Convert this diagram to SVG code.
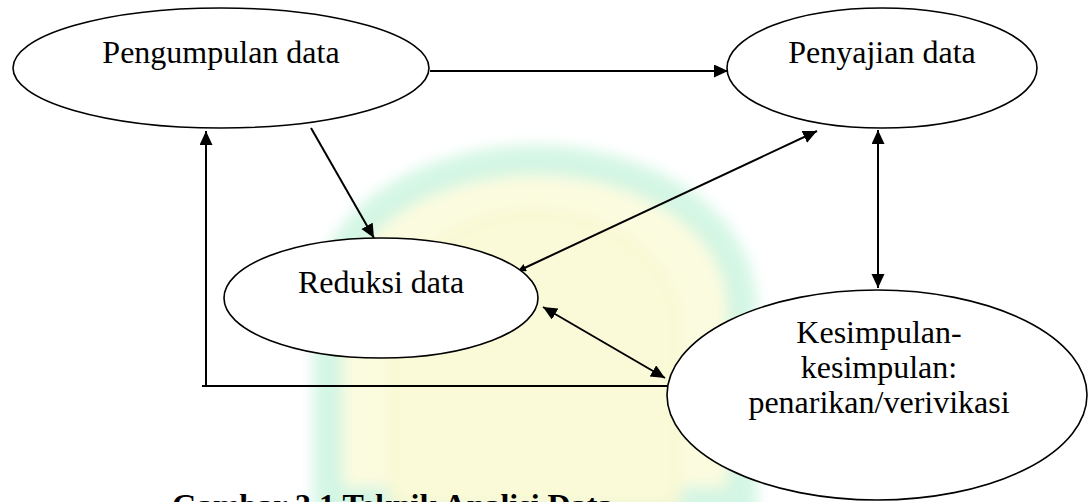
<svg xmlns="http://www.w3.org/2000/svg" width="1088" height="502" viewBox="0 0 1088 502">
  <defs>
    <style>
      .node ellipse { fill: #ffffff; stroke: #000000; stroke-width: 1.6; }
      .node text { font-family: "Liberation Serif", "Times New Roman", serif; font-size: 32px; fill: #000000; text-anchor: middle; }
      .edge { fill: none; stroke: #000000; stroke-width: 2; }
      .caption { font-family: "Liberation Serif", "Times New Roman", serif; font-size: 32px; font-weight: bold; fill: #000000; }
    </style>
    <marker id="head" markerUnits="userSpaceOnUse" markerWidth="16" markerHeight="14" refX="14" refY="6.5" orient="auto-start-reverse">
      <path d="M0,0 L14,6.5 L0,13 z" fill="#000000"/>
    </marker>
    <marker id="headSmall" markerUnits="userSpaceOnUse" markerWidth="10" markerHeight="10" refX="8" refY="4" orient="auto-start-reverse">
      <path d="M0,0 L8,4 L0,8 z" fill="#000000"/>
    </marker>
    <filter id="soft" x="-20%" y="-20%" width="140%" height="140%">
      <feGaussianBlur stdDeviation="7"/>
    </filter>
  </defs>

  <rect width="1088" height="502" fill="#ffffff"/>

  <!-- faint emblem behind the chart -->
  <g id="emblem" filter="url(#soft)" opacity="0.8">
    <path d="M328,502 L328,310 C328,222 420,162 535,160 C650,162 742,222 742,310 L742,502 Z" fill="#fbfbd8" stroke="#c9f4de" stroke-width="30"/>
    <path d="M395,502 L395,330 C395,262 460,217 535,215 C610,217 675,262 675,330 L675,502 Z" fill="#fafad0" stroke="#f7f7c8" stroke-width="12"/>
  </g>

  <!-- connectors -->
  <g id="connectors">
    <line class="edge" x1="430" y1="71" x2="728" y2="71" marker-end="url(#head)"/>
    <line class="edge" x1="311" y1="128" x2="374" y2="238" marker-end="url(#head)"/>
    <line class="edge" x1="518" y1="271" x2="817" y2="131" marker-start="url(#headSmall)" marker-end="url(#head)"/>
    <line class="edge" x1="543" y1="307" x2="665" y2="378" marker-start="url(#head)" marker-end="url(#head)"/>
    <line class="edge" x1="878" y1="130" x2="878" y2="288" marker-start="url(#head)" marker-end="url(#head)"/>
    <polyline class="edge" points="667,386 202,386"/>
    <line class="edge" x1="206" y1="387" x2="206" y2="131" marker-end="url(#head)"/>
  </g>

  <g id="pengumpulan" class="node">
    <ellipse cx="221" cy="68" rx="208" ry="60"/>
    <text x="221" y="63">Pengumpulan data</text>
  </g>

  <g id="penyajian" class="node">
    <ellipse cx="882" cy="68" rx="155" ry="60"/>
    <text x="882" y="63">Penyajian data</text>
  </g>

  <g id="reduksi" class="node">
    <ellipse cx="381" cy="298" rx="157" ry="60"/>
    <text x="381" y="293">Reduksi data</text>
  </g>

  <g id="kesimpulan" class="node">
    <ellipse cx="877" cy="395" rx="210" ry="105"/>
    <text x="879" y="343">Kesimpulan-</text>
    <text x="879" y="378">kesimpulan:</text>
    <text x="879" y="413">penarikan/verivikasi</text>
  </g>

  <text class="caption" x="172" y="516">Gambar 3.1 Teknik Analisi Data</text>
</svg>
